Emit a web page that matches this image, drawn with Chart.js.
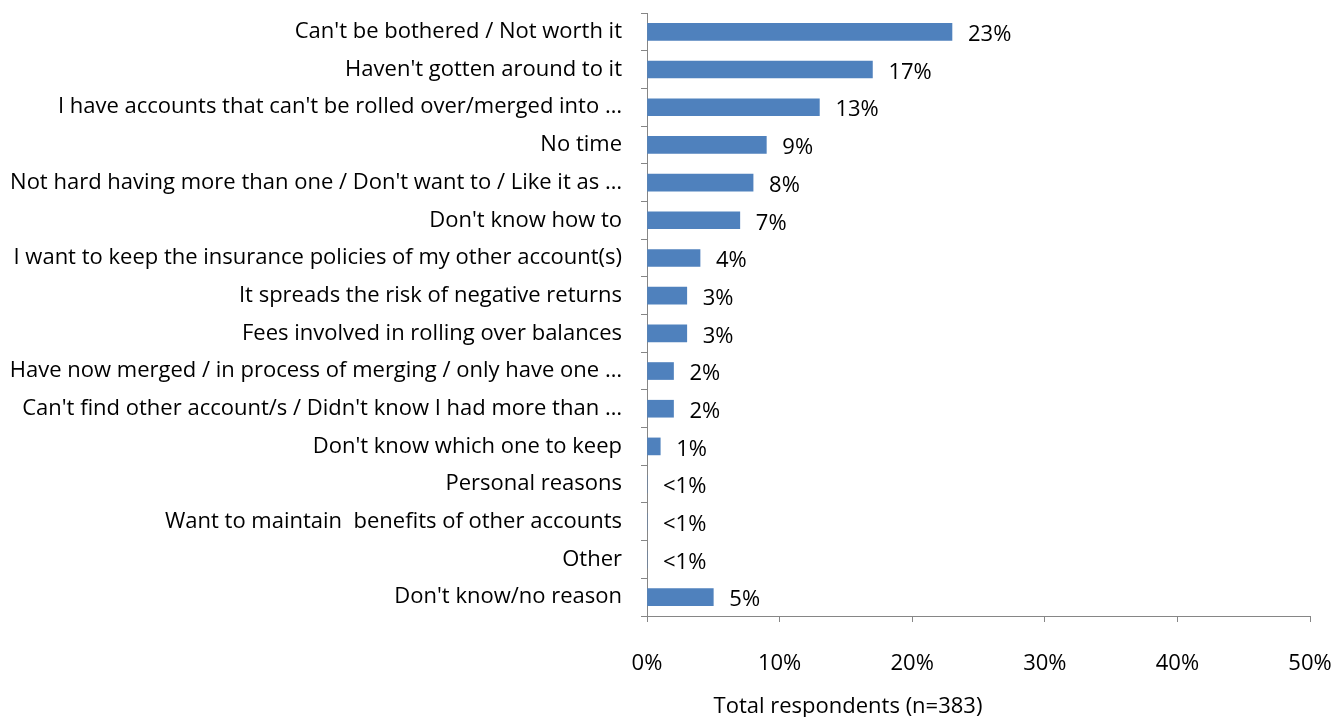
<!DOCTYPE html>
<html>
<head>
<meta charset="utf-8">
<script src="https://cdn.jsdelivr.net/npm/chart.js@4"></script>
<style>
    html, body { margin: 0; padding: 0; background: #fff; }
    #wrap { width: 1334px; height: 717px; }
</style>
</head>
<body>
<div id="wrap"><canvas id="reasonsChart" width="1334" height="717"></canvas></div>
<script>
const categories = [
    "Can't be bothered / Not worth it",
    "Haven't gotten around to it",
    "I have accounts that can't be rolled over/merged into …",
    "No time",
    "Not hard having more than one / Don't want to / Like it as …",
    "Don't know how to",
    "I want to keep the insurance policies of my other account(s)",
    "It spreads the risk of negative returns",
    "Fees involved in rolling over balances",
    "Have now merged / in process of merging / only have one …",
    "Can't find other account/s / Didn't know I had more than …",
    "Don't know which one to keep",
    "Personal reasons",
    "Want to maintain  benefits of other accounts",
    "Other",
    "Don't know/no reason"
];
const percentages = [23, 17, 13, 9, 8, 7, 4, 3, 3, 2, 2, 1, 0, 0, 0, 5];
const valueLabels = ['23%', '17%', '13%', '9%', '8%', '7%', '4%', '3%', '3%', '2%', '2%', '1%', '<1%', '<1%', '<1%', '5%'];
const xTicks = [0, 10, 20, 30, 40, 50];
const xTitle = 'Total respondents (n=383)';

const fontFamily = '"Open Sans", Lato, sans-serif';

// value labels next to each bar, plus the axis title (sits left of the axis centre)
const barLabels = {
    id: 'barLabels',
    afterDatasetsDraw(chart) {
        const ctx = chart.ctx;
        const meta = chart.getDatasetMeta(0);
        ctx.save();
        ctx.font = '22px ' + fontFamily;
        ctx.fillStyle = '#000';
        ctx.textBaseline = 'middle';
        ctx.textAlign = 'left';
        meta.data.forEach((bar, i) => {
            ctx.fillText(valueLabels[i], bar.x + 16, bar.y + 3);
        });
        ctx.textAlign = 'center';
        ctx.fillText(xTitle, 848, 707);
        ctx.restore();
    }
};

new Chart(document.getElementById('reasonsChart').getContext('2d'), {
    type: 'bar',
    data: {
        labels: categories,
        datasets: [{
            data: percentages,
            backgroundColor: '#4F81BD',
            borderWidth: 0,
            barThickness: 17
        }]
    },
    options: {
        indexAxis: 'y',
        responsive: false,
        animation: false,
        layout: { padding: { top: 13, right: 24, left: 0, bottom: 0 } },
        plugins: { legend: { display: false }, tooltip: { enabled: false } },
        scales: {
            x: {
                min: 0,
                max: 50,
                afterBuildTicks: (scale) => { scale.ticks = xTicks.map(v => ({ value: v })); },
                afterFit: (scale) => {
                    scale.height = 101;
                    scale.paddingLeft = 0;
                    scale.paddingRight = 0;
                },
                border: { color: '#868686', width: 1 },
                grid: { drawOnChartArea: false, drawTicks: true, tickLength: 6, color: '#868686' },
                ticks: {
                    padding: 29,
                    color: '#000',
                    font: { family: fontFamily, size: 22 },
                    callback: (v) => v + '%'
                }
            },
            y: {
                afterFit: (scale) => {
                    scale.width = 647;
                    scale.paddingTop = 0;
                    scale.paddingBottom = 0;
                },
                border: { color: '#868686', width: 1 },
                grid: { drawOnChartArea: false, drawTicks: true, tickLength: 6, color: '#868686', offset: true },
                ticks: {
                    padding: 19,
                    color: '#000',
                    autoSkip: false,
                    font: { family: fontFamily, size: 22 }
                }
            }
        }
    },
    plugins: [barLabels]
});
</script>
</body>
</html>
